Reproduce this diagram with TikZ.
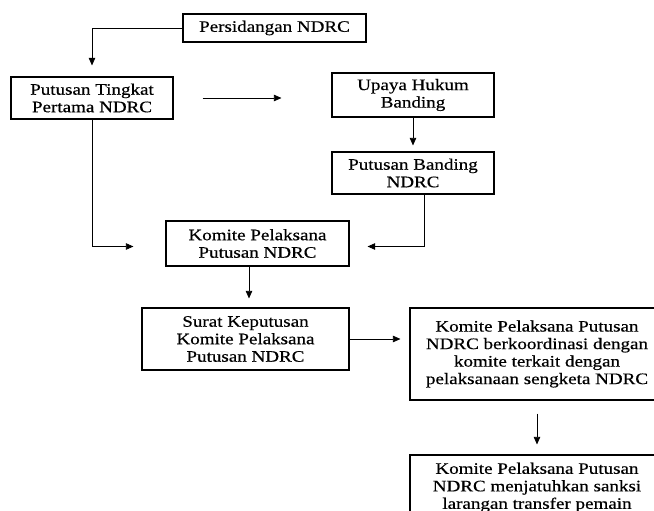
\documentclass[tikz,border=0pt]{standalone}
\usepackage{fontspec}
\setmainfont{Liberation Serif}[FakeStretch=1.19, FakeBold=0.5]
\usetikzlibrary{arrows.meta}
\begin{document}
\begin{tikzpicture}[x=1pt, y=-1pt,
  box/.style={draw, line width=1.2pt, align=center, inner sep=0pt,
    font=\fontsize{16}{17.5}\selectfont},
  arr/.style={-{Triangle[length=7.5pt,width=6.5pt]}, line width=0.7pt}]
\useasboundingbox (0,0) rectangle (654,511);

\node[box, minimum width=183, minimum height=28] (persid) at (274.5,28) {Persidangan NDRC};
\node[box, minimum width=162, minimum height=42] (tingkat) at (92,98) {Putusan Tingkat\\Pertama NDRC};
\node[box, minimum width=162, minimum height=44] (upaya) at (413,95) {Upaya Hukum\\Banding};
\node[box, minimum width=162, minimum height=42] (banding) at (413,173) {Putusan Banding\\NDRC};
\node[box, minimum width=183, minimum height=45] (komite) at (257.5,243.5) {Komite Pelaksana\\Putusan NDRC};
\node[box, minimum width=207, minimum height=62] (surat) at (245.5,339) {Surat Keputusan\\Komite Pelaksana\\Putusan NDRC};
\node[box, minimum width=254, minimum height=92] (koord) at (537,354) {Komite Pelaksana Putusan\\NDRC berkoordinasi dengan\\komite terkait dengan\\pelaksanaan sengketa NDRC};
\node[box, minimum width=254, minimum height=65] (sanksi) at (537,487.5) {Komite Pelaksana Putusan\\NDRC menjatuhkan sanksi\\larangan transfer pemain};

\draw[arr] (persid.west) -| ([yshift=11pt]tingkat.north);
\draw[arr, shorten <=29pt, shorten >=50pt] (tingkat.east) -- (tingkat.east -| upaya.west);
\draw[arr, shorten >=6pt] (upaya.south) -- (banding.north);
\draw[arr] ([xshift=11pt]banding.south) |- ([xshift=18pt,yshift=-3pt]komite.east);
\draw[arr] (tingkat.south) |- ([xshift=-32pt,yshift=-3pt]komite.west);
\draw[arr] ([xshift=-8.5pt]komite.south) -- ([xshift=3.5pt,yshift=9pt]surat.north);
\draw[arr, shorten >=9pt] (surat.east) -- (surat.east -| koord.west);
\draw[arr, shorten <=13pt, shorten >=10pt] (koord.south) -- (sanksi.north);
\end{tikzpicture}
\end{document}
